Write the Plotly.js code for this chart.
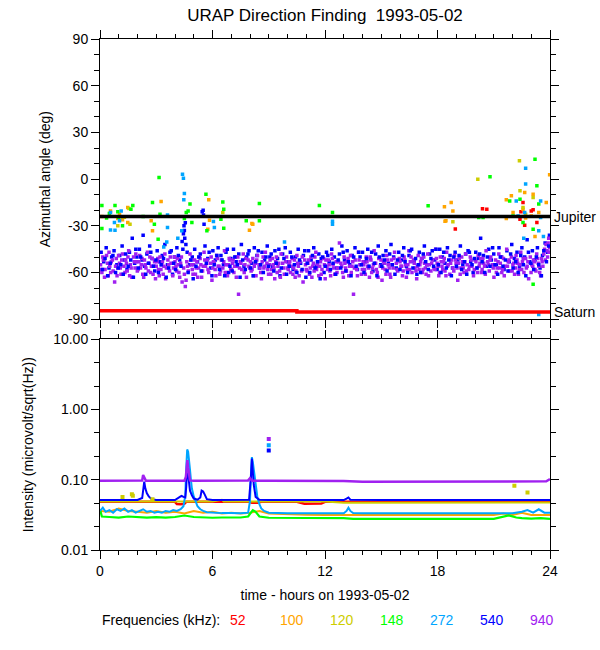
<!DOCTYPE html>
<html><head><meta charset="utf-8">
<script src="https://cdn.plot.ly/plotly-3.0.1.min.js"></script>
<style>html,body{margin:0;padding:0;background:#fff;}#chart{width:600px;height:650px;}</style>
</head><body><div id="chart"></div>
<script>
// ---------- labels / ticks ----------
const freqLabels = ['52','100','120','148','272','540','940'];
const freqColors = ['#FF0000','#FFA500','#CDCD00','#00FF00','#00A5FF','#0000FF','#A020F0'];
const hourTicks = [0,6,12,18,24];
const angleTicks = [-90,-60,-30,0,30,60,90];
const angleTickText = ['-90','-60','-30','0','30','60','90'];
const intensityTicks = [0.01,0.1,1,10];
const intensityTickText = ['0.01','0.10','1.00','10.00'];

// ---------- top panel: azimuthal angle (deg) vs hour ----------
const a52T = [18.95,20.4,20.63,22.4,22.45,22.56,22.65,23.0,23.1,23.3];
const a52A = [-32,-19,-19.3,-25.7,-21,-15,-29.6,-20.4,-19.7,-27.9];
const a100T = [0.1,0.56,0.95,1.04,1.2,1.48,1.48,2.73,2.8,3.26,5.75,5.8,5.84,7.97,8.1,8.15,18.37,18.4,18.45,18.73,18.82,21.67,21.67,21.94,22.03,22.56,22.65,22.7,23.0,23.1,23.2,23.4,23.8,23.98];
const a100A = [-24,-20.4,-25.3,-22.5,-26,-27.9,-18.2,-26.8,-33.2,-14.4,-32.1,-13.3,-26.4,-32.8,-28.5,-28.9,-17.8,-27,-26.8,-15,-20.4,-13.3,-25.3,-10.7,-21.4,-19.3,-8.6,-25,-23.6,-9.7,-36.8,-21.4,-15,2.8];
const a120T = [0.95,1.3,1.54,1.6,6.55,18.82,20.15,22.37,22.4,22.56,22.7,23.1];
const a120A = [-30,-24.5,-18.9,-28.9,-21.4,-27.4,0,11.8,-7.5,-18.2,-22.5,-11.8];
const a148T = [0.1,0.1,0.35,0.5,0.8,0.95,1.0,1.2,1.65,1.75,2.3,2.8,2.9,3.1,3.15,3.2,4.5,4.6,4.7,4.8,4.9,5.65,5.7,6.45,6.55,6.6,6.6,7.8,8.5,8.5,11.7,12.4,17.5,20.2,20.43,20.8,21.85,22.03,22.4,22.56,23.1,23.1,23.2,23.3,23.4];
const a148A = [-17,-31.7,-25,-22,-17,-21,-24.5,-30,-19.3,-17,-24,-15,-29,-38.6,1,-22.5,-25.3,-21.4,-20.4,-16,-27.9,-9.7,-33.2,-25.7,-14.6,-19.3,-31.5,-26.8,-15.6,-26.8,-17,-21.4,-17.1,-24.6,-24.6,1.5,-14,-23.6,-12.9,-27.9,-32.1,-67.5,12.8,-4.3,-16];
const a272T = [0.56,0.56,0.77,0.8,1.04,1.13,3.4,3.56,3.6,3.6,4.15,4.36,4.4,4.45,4.47,4.5,6.05,6.1,9.84,12.4,12.4,22.2,22.3,22.6,22.65,22.7,22.7,23.4,23.4,23.5,23.5,23.65];
const a272A = [-21.4,-32.6,-27.9,-32.8,-26.8,-20.4,-43.5,-40.3,-23,-31,-37.9,-33.2,3.2,0.6,-13.3,-9.2,-27.2,-31,-40.3,-27,-29,-14,-23.6,-38,-21.4,7,-3.2,-33.2,-87,-14,-24.6,-36.8];
const a540T = [0.06,0.2,0.33,0.48,0.62,0.75,0.9,
1.05,1.18,1.3,1.44,1.57,1.72,1.85,1.97,
2.1,2.24,2.3,2.38,2.5,2.65,2.78,2.92,
3.05,3.19,3.32,3.46,3.6,3.73,3.87,3.98,
4.1,4.25,4.38,4.45,4.48,4.5,4.52,4.55,4.58,4.65,4.78,4.92,
5.05,5.2,5.35,5.45,5.5,5.52,5.55,5.6,5.75,5.9,
6.02,6.15,6.3,6.45,6.58,6.72,6.86,6.98,
7.12,7.26,7.4,7.54,7.68,7.82,7.95,
8.1,8.23,8.37,8.5,8.64,8.78,8.92,
9.06,9.2,9.33,9.47,9.6,9.74,9.88,
10.02,10.15,10.3,10.43,10.57,10.7,10.85,10.98,
11.12,11.26,11.4,11.53,11.67,11.8,11.95,
12.08,12.22,12.36,12.5,12.63,12.77,12.9,
13.04,13.18,13.32,13.45,13.6,13.73,13.87,
14.0,14.15,14.28,14.42,14.56,14.7,14.84,14.97,
15.1,15.25,15.38,15.52,15.66,15.8,15.93,
16.07,16.2,16.34,16.48,16.62,16.75,16.9,
17.03,17.17,17.3,17.44,17.58,17.72,17.85,17.98,
18.12,18.26,18.4,18.53,18.67,18.8,18.94,
19.08,19.22,19.35,19.5,19.63,19.77,19.9,
20.04,20.18,20.3,20.45,20.6,20.73,20.87,
21.0,21.14,21.28,21.42,21.55,21.7,21.83,21.96,
22.1,22.24,22.37,22.5,22.65,22.78,22.92,
23.06,23.2,23.33,23.47,23.6,23.74,23.88,23.97];
const a540A = [-47,-53,-44,-57,-50,-46,-55,
-49,-43,-52,-58,-47,-38,-54,-50,
-45,-52,-36,-56,-48,-43,-51,-59,
-46,-53,-49,-42,-55,-47,-61,-50,
-44,-52,-40,-35,-30,-33,-38,-28,-42,-47,-55,-50,
-45,-53,-48,-21,-20,-23,-29,-43,-51,-57,
-46,-52,-44,-49,-55,-47,-60,-51,
-45,-53,-48,-42,-56,-50,-46,
-54,-44,-49,-57,-47,-52,-43,
-50,-56,-46,-51,-62,-48,-44,
-53,-47,-58,-50,-45,-54,-49,-63,
-46,-52,-44,-56,-48,-51,-60,
-47,-53,-45,-50,-57,-48,-43,
-52,-46,-55,-49,-44,-58,-50,
-47,-53,-45,-51,-59,-48,-43,-55,
-49,-46,-54,-42,-50,-57,-47,
-52,-44,-56,-49,-45,-53,-61,
-47,-51,-43,-55,-48,-46,-52,-58,
-45,-50,-54,-44,-49,-57,-47,
-52,-43,-55,-48,-46,-53,-60,
-47,-51,-38,-49,-56,-45,-52,
-48,-55,-44,-50,-58,-46,-53,-42,
-51,-47,-56,-44,-50,-39,-53,
-46,-52,-44,-57,-49,-41,-47,-36];
const a540T2 = [0.13,0.27,0.41,0.55,0.69,0.83,0.97,
1.11,1.24,1.37,1.5,1.64,1.78,1.91,
2.04,2.17,2.44,2.58,2.71,2.85,2.98,
3.12,3.26,3.39,3.53,3.66,3.8,3.93,
4.03,4.18,4.32,4.42,4.7,4.85,4.97,
5.12,5.27,5.4,5.67,5.82,5.97,
6.09,6.23,6.37,6.51,6.65,6.79,6.93,
7.05,7.19,7.33,7.47,7.61,7.75,7.89,
8.03,8.17,8.3,8.44,8.57,8.71,8.85,8.98,
9.13,9.27,9.4,9.54,9.67,9.81,9.95,
10.09,10.23,10.37,10.5,10.64,10.78,10.92,
11.05,11.19,11.33,11.47,11.6,11.74,11.88,
12.01,12.15,12.29,12.43,12.57,12.7,12.84,12.97,
13.11,13.25,13.39,13.53,13.66,13.8,13.94,
14.08,14.21,14.35,14.49,14.63,14.77,14.9,
15.03,15.17,15.31,15.45,15.59,15.73,15.87,
16.0,16.13,16.27,16.41,16.55,16.69,16.83,16.97,
17.1,17.24,17.37,17.51,17.65,17.79,17.92,
18.05,18.19,18.33,18.47,18.6,18.74,18.87,
19.01,19.15,19.29,19.43,19.56,19.7,19.84,19.97,
20.11,20.25,20.38,20.52,20.66,20.8,20.94,
21.07,21.21,21.35,21.49,21.62,21.76,21.9,
22.03,22.17,22.3,22.44,22.58,22.71,22.85,22.98,
23.13,23.27,23.4,23.54,23.67,23.81,23.93];
const a540A2 = [-58,-51,-62,-54,-49,-60,-57,
-55,-61,-48,-56,-52,-63,-45,
-57,-50,-61,-54,-47,-56,-52,
-60,-55,-51,-63,-57,-46,-54,
-58,-49,-56,-45,-60,-52,-64,
-56,-50,-59,-54,-47,-62,
-55,-49,-58,-52,-62,-45,-56,
-59,-50,-55,-63,-52,-58,-48,
-57,-62,-53,-46,-55,-60,-50,-56,
-48,-59,-54,-45,-57,-51,-61,
-56,-50,-55,-60,-52,-58,-46,
-54,-60,-49,-57,-53,-64,-50,
-56,-49,-58,-54,-61,-52,-57,-47,
-59,-53,-62,-50,-56,-47,-55,
-60,-51,-56,-47,-54,-62,-50,
-56,-52,-59,-48,-55,-61,-52,
-58,-49,-53,-60,-46,-57,-51,-55,
-60,-48,-53,-58,-51,-56,-45,
-55,-60,-47,-57,-52,-62,-50,
-56,-49,-58,-53,-61,-47,-55,-51,
-57,-48,-53,-60,-50,-56,-44,
-55,-61,-50,-56,-52,-59,-48,
-57,-53,-60,-49,-55,-62,-47,-54,
-58,-50,-55,-62,-46,-53,-43];
const a940T = [0.03,0.1,0.18,0.27,0.35,0.44,0.52,0.6,0.7,0.78,0.87,0.95,
1.04,1.12,1.2,1.28,1.37,1.45,1.53,1.62,1.7,1.79,1.87,1.95,
2.03,2.12,2.2,2.28,2.37,2.45,2.53,2.62,2.7,2.79,2.87,2.96,
3.04,3.12,3.2,3.29,3.37,3.46,3.54,3.62,3.71,3.79,3.88,3.96,
4.05,4.13,4.21,4.3,4.38,4.46,4.55,4.63,4.71,4.8,4.88,4.96,
5.05,5.13,5.21,5.3,5.38,5.47,5.55,5.63,5.72,5.8,5.88,5.97,
6.05,6.14,6.22,6.3,6.39,6.47,6.55,6.64,6.72,6.8,6.89,6.97,
7.06,7.14,7.22,7.31,7.39,7.48,7.56,7.64,7.73,7.81,7.9,7.98,
8.06,8.15,8.23,8.32,8.4,8.48,8.57,8.65,8.74,8.82,8.9,8.99,
9.07,9.16,9.24,9.32,9.41,9.49,9.58,9.66,9.74,9.83,9.91,9.99,
10.08,10.16,10.25,10.33,10.41,10.5,10.58,10.67,10.75,10.83,10.92,11.0,
11.09,11.17,11.25,11.34,11.42,11.51,11.59,11.67,11.76,11.84,11.93,12.01,
12.1,12.18,12.26,12.35,12.43,12.52,12.6,12.68,12.77,12.85,12.94,13.02,
13.1,13.19,13.27,13.36,13.44,13.52,13.61,13.69,13.78,13.86,13.94,14.03,
14.11,14.2,14.28,14.37,14.45,14.53,14.62,14.7,14.79,14.87,14.95,15.04,
15.12,15.21,15.29,15.37,15.46,15.54,15.63,15.71,15.8,15.88,15.96,16.05,
16.13,16.22,16.3,16.38,16.47,16.55,16.64,16.72,16.8,16.89,16.97,17.06,
17.14,17.23,17.31,17.39,17.48,17.56,17.65,17.73,17.81,17.9,17.98,18.07,
18.15,18.24,18.32,18.4,18.49,18.57,18.66,18.74,18.82,18.91,18.99,19.08,
19.16,19.25,19.33,19.41,19.5,19.58,19.67,19.75,19.83,19.92,20.0,
20.09,20.17,20.26,20.34,20.42,20.51,20.59,20.68,20.76,20.84,20.93,21.01,
21.1,21.18,21.27,21.35,21.43,21.52,21.6,21.69,21.77,21.85,21.94,22.02,
22.11,22.19,22.28,22.36,22.44,22.53,22.61,22.7,22.78,22.86,22.95,23.03,
23.12,23.2,23.29,23.37,23.45,23.54,23.62,23.71,23.79,23.87,23.93,23.98];
const a940A = [-55,-60,-52,-58,-49,-62,-56,-53,-59,-66,-51,-57,
-54,-61,-48,-56,-52,-59,-46,-55,-63,-50,-57,-53,
-58,-49,-55,-61,-52,-57,-47,-54,-60,-51,-56,-64,
-53,-58,-50,-55,-61,-48,-57,-52,-59,-54,-62,-50,
-56,-51,-60,-54,-66,-57,-69,-53,-59,-48,-55,-61,
-52,-57,-63,-50,-55,-59,-47,-56,-52,-60,-54,-65,
-53,-58,-49,-56,-61,-52,-57,-46,-55,-62,-51,-58,
-54,-60,-50,-56,-74,-53,-58,-48,-55,-63,-52,-57,
-59,-51,-56,-62,-49,-55,-60,-53,-57,-47,-54,-61,
-52,-58,-55,-64,-50,-56,-59,-48,-54,-61,-53,-57,
-55,-60,-51,-57,-63,-49,-56,-53,-59,-66,-52,-58,
-54,-61,-50,-56,-59,-47,-55,-62,-53,-58,-51,-64,
-56,-52,-59,-48,-55,-61,-53,-57,-41,-54,-60,-50,
-57,-53,-62,-49,-56,-74,-52,-58,-47,-55,-61,-53,
-58,-50,-56,-63,-52,-57,-46,-54,-60,-51,-56,-65,
-53,-58,-49,-55,-61,-52,-57,-47,-54,-59,-51,-56,
-62,-50,-55,-58,-46,-53,-60,-52,-57,-64,-49,-55,
-51,-58,-54,-61,-48,-55,-59,-52,-57,-45,-54,-62,
-50,-56,-53,-59,-47,-55,-61,-52,-57,-49,-54,-65,
-51,-57,-53,-60,-48,-55,-58,-50,-56,-62,-52,
-57,-49,-54,-60,-51,-56,-46,-53,-59,-50,-55,-63,
-52,-57,-48,-54,-60,-51,-56,-45,-53,-59,-50,-55,
-61,-49,-54,-58,-47,-53,-60,-51,-56,-64,-50,-55,
-52,-58,-48,-54,-60,-51,-56,-45,-42,-50,-38,-44];
const a940T2 = [0.07,0.15,0.24,0.4,0.48,0.57,0.66,0.83,0.91,0.99,
1.08,1.16,1.33,1.41,1.49,1.58,1.66,1.83,1.91,1.99,
2.07,2.16,2.24,2.33,2.41,2.58,2.66,2.74,2.83,2.91,
3.0,3.08,3.16,3.25,3.33,3.41,3.5,3.66,3.75,3.92,
4.0,4.09,4.17,4.25,4.34,4.5,4.59,4.67,4.84,4.92,
5.0,5.09,5.17,5.26,5.34,5.42,5.51,5.59,5.76,5.93,
6.01,6.1,6.18,6.26,6.35,6.43,6.6,6.68,6.85,6.93,
7.02,7.1,7.18,7.27,7.35,7.44,7.52,7.69,7.77,7.94,
8.02,8.11,8.19,8.28,8.36,8.53,8.61,8.7,8.78,8.95,
9.03,9.11,9.2,9.28,9.37,9.45,9.53,9.62,9.79,9.95,
10.04,10.12,10.2,10.29,10.37,10.45,10.54,10.62,10.79,10.96,
11.04,11.13,11.21,11.3,11.38,11.46,11.55,11.72,11.8,11.97,
12.05,12.14,12.22,12.3,12.39,12.47,12.64,12.72,12.89,12.98,
13.06,13.14,13.23,13.31,13.4,13.48,13.57,13.73,13.82,13.99,
14.07,14.15,14.24,14.32,14.41,14.49,14.58,14.74,14.83,14.99,
15.08,15.16,15.25,15.33,15.42,15.5,15.58,15.67,15.84,16.0,
16.09,16.17,16.26,16.34,16.42,16.51,16.59,16.76,16.85,16.93,
17.02,17.1,17.19,17.27,17.35,17.44,17.52,17.69,17.86,17.94,
18.03,18.11,18.2,18.28,18.36,18.45,18.53,18.7,18.87,18.95,
19.04,19.12,19.21,19.29,19.37,19.46,19.54,19.71,19.79,19.96,
20.05,20.13,20.22,20.3,20.38,20.47,20.55,20.72,20.8,20.97,
21.06,21.14,21.23,21.31,21.39,21.48,21.56,21.73,21.81,21.98,
22.07,22.15,22.24,22.32,22.4,22.49,22.57,22.74,22.82,22.99,
23.08,23.16,23.25,23.33,23.41,23.5,23.58,23.67,23.75,23.83,23.9,23.95];
const a940A2 = [-58,-50,-63,-54,-47,-60,-52,-56,-62,-49,
-57,-52,-60,-54,-50,-62,-57,-53,-48,-59,
-53,-57,-51,-63,-55,-59,-50,-56,-61,-53,
-56,-51,-62,-58,-53,-56,-64,-55,-50,-57,
-53,-59,-55,-63,-50,-61,-65,-56,-52,-58,
-55,-61,-53,-57,-51,-63,-56,-52,-58,-50,
-57,-54,-62,-51,-56,-59,-53,-60,-55,-52,
-58,-52,-56,-63,-50,-57,-54,-60,-51,-56,
-53,-58,-62,-54,-52,-57,-64,-50,-56,-58,
-55,-61,-51,-57,-53,-60,-54,-63,-57,-50,
-58,-53,-56,-61,-52,-59,-54,-62,-50,-55,
-59,-52,-57,-63,-54,-50,-58,-56,-61,-55,
-52,-58,-55,-62,-51,-57,-60,-53,-56,-63,
-54,-59,-51,-56,-60,-53,-57,-62,-52,-58,
-55,-61,-53,-57,-50,-60,-55,-58,-63,-52,
-57,-54,-61,-52,-57,-63,-55,-51,-58,-53,
-56,-59,-52,-63,-55,-58,-50,-54,-59,-56,
-58,-53,-60,-50,-57,-55,-62,-54,-58,-51,
-56,-60,-53,-58,-51,-62,-56,-54,-59,-52,
-57,-54,-61,-50,-57,-53,-59,-56,-52,-58,
-53,-60,-56,-51,-58,-54,-61,-55,-52,-57,
-55,-60,-53,-57,-50,-58,-62,-56,-52,-59,
-54,-57,-52,-61,-55,-58,-51,-57,-53,-60,
-56,-53,-59,-51,-56,-62,-53,-48,-52,-46,-41,-47];
const jupiterT = [0,24];
const jupiterA = [-24,-24];
const saturnT = [0,10.5,10.5,24];
const saturnA = [-84.5,-84.5,-85.3,-85.3];

// ---------- bottom panel: intensity vs hour ----------
const i52T = [0,1,2,3,4,4.1,4.3,4.5,4.6,5,6,7,8,8.1,8.4,8.6,9,10,10.5,10.9,11.3,11.8,12,13,14,15,16,17,18,19,20,21,22,23,24];
const i52V = [0.0485,0.0488,0.0485,0.0487,0.0485,0.0452,0.045,0.0455,0.0485,0.0485,0.0487,0.0485,0.0485,0.047,0.047,0.0485,0.0485,0.0487,0.0485,0.0455,0.0452,0.0458,0.0485,0.0487,0.0488,0.0487,0.0488,0.0488,0.0487,0.0488,0.0487,0.0488,0.0487,0.0488,0.0488];
const i100T = [0,0.5,1,1.5,2,2.5,3,3.5,4,4.5,5,5.5,6,6.5,7,7.5,8,8.5,9,10,11,12,13,14,15,16,17,18,19,20,21,21.5,22,22.5,23,24];
const i100V = [0.036,0.035,0.039,0.036,0.035,0.034,0.036,0.034,0.035,0.033,0.036,0.034,0.035,0.033,0.034,0.033,0.034,0.036,0.033,0.032,0.0318,0.0316,0.0316,0.0316,0.0318,0.0316,0.0316,0.0318,0.0316,0.0316,0.0316,0.033,0.0316,0.034,0.0316,0.0316];
const i120T = [0,1,2,3,4,5,6,6.5,6.6,7,8,9,10,11,12,13,14,15,16,17,18,19,20,21,22,23,24];
const i120V = [0.049,0.049,0.0495,0.049,0.049,0.049,0.049,0.052,0.049,0.049,0.049,0.049,0.049,0.049,0.049,0.0472,0.0471,0.0473,0.0471,0.0472,0.0471,0.0473,0.0472,0.0471,0.0472,0.0471,0.0473];
const i148T = [0,0.1,0.5,1,1.5,2,2.5,3,3.5,4,4.5,5,5.5,6,6.5,7,7.5,7.9,8.05,8.15,8.3,8.5,9,10,11,12,13,13.5,14,15,16,17,18,19,20,21,21.8,22.2,22.5,23,23.5,24];
const i148V = [0.038,0.03,0.0295,0.029,0.03,0.0295,0.029,0.0293,0.029,0.0295,0.031,0.0295,0.029,0.0288,0.029,0.0288,0.029,0.03,0.035,0.037,0.035,0.03,0.0288,0.0287,0.0288,0.0289,0.0285,0.0278,0.0277,0.0277,0.0278,0.0277,0.0277,0.0278,0.0277,0.0278,0.031,0.029,0.0285,0.028,0.0285,0.0278];
const i272T = [0,0.15,0.3,0.5,0.7,0.9,1.1,1.3,1.5,1.7,1.9,2.1,2.3,2.5,2.7,2.9,3.1,3.3,3.5,3.7,3.9,4.1,4.3,4.45,4.55,4.6,4.65,4.7,4.75,4.8,4.85,4.9,5.0,5.1,5.2,5.35,5.5,5.7,6,6.5,7,7.5,7.9,8.0,8.05,8.1,8.15,8.2,8.25,8.3,8.4,8.5,8.6,8.75,9,10,11,12,13,13.15,13.25,13.35,13.5,14,15,16,17,18,19,20,21,22,22.5,22.8,23.1,23.4,23.7,24];
const i272V = [0.036,0.04,0.035,0.037,0.034,0.038,0.036,0.039,0.035,0.037,0.034,0.036,0.038,0.035,0.036,0.034,0.035,0.034,0.036,0.035,0.037,0.036,0.038,0.042,0.06,0.15,0.27,0.25,0.2,0.14,0.1,0.075,0.058,0.048,0.042,0.038,0.036,0.0345,0.034,0.0335,0.0335,0.0333,0.034,0.05,0.12,0.21,0.18,0.14,0.1,0.075,0.055,0.045,0.039,0.036,0.034,0.0333,0.0333,0.0333,0.0333,0.036,0.04,0.036,0.0335,0.0333,0.0333,0.0333,0.0333,0.0333,0.0333,0.0333,0.0333,0.0333,0.035,0.037,0.034,0.038,0.034,0.034];
const i540T = [0,0.5,1,1.5,2,2.25,2.32,2.36,2.42,2.5,2.6,2.75,3,3.5,4,4.3,4.35,4.45,4.55,4.6,4.65,4.7,4.75,4.8,4.9,5.0,5.2,5.35,5.42,5.5,5.58,5.7,6,6.5,7,7.5,7.95,8.05,8.1,8.15,8.2,8.3,8.5,9,10,11,12,13,13.15,13.25,13.35,14,15,16,17,18,19,20,21,22,23,24];
const i540V = [0.0515,0.0515,0.0516,0.0515,0.0515,0.055,0.085,0.094,0.075,0.064,0.058,0.053,0.0515,0.0515,0.0515,0.058,0.059,0.057,0.056,0.08,0.15,0.12,0.09,0.07,0.06,0.054,0.052,0.056,0.07,0.068,0.062,0.053,0.0515,0.0515,0.0515,0.0515,0.052,0.11,0.2,0.13,0.085,0.057,0.052,0.0515,0.0515,0.0515,0.0515,0.0515,0.054,0.056,0.052,0.0515,0.0515,0.0515,0.0515,0.0515,0.0515,0.0515,0.0515,0.0515,0.0515,0.0515];
const i940T = [0,1,2,2.25,2.3,2.35,2.45,3,4,4.5,4.58,4.62,4.66,4.7,4.75,4.8,5,6,7,7.9,8.0,8.1,9,10,11,12,13,14,15,16,17,18,19,20,21,22,23,23.8,24];
const i940V = [0.097,0.097,0.097,0.098,0.117,0.11,0.097,0.097,0.097,0.097,0.11,0.17,0.19,0.15,0.12,0.098,0.097,0.097,0.097,0.098,0.105,0.097,0.097,0.097,0.097,0.097,0.096,0.094,0.094,0.094,0.094,0.094,0.094,0.094,0.094,0.094,0.094,0.095,0.102];
// isolated intensity samples (hour, value, frequency index)
const isoT = [1.2,1.7,1.75,2.8,22.1,22.8,9.0,9.0,9.0];
const isoV = [0.057,0.062,0.059,0.053,0.082,0.066,0.38,0.31,0.26];
const isoF = [2,2,2,2,2,2,6,4,5];

// ---------- build ----------
const FONT = '"Liberation Sans", Arial, Helvetica, sans-serif';
const intT = [i52T,i100T,i120T,i148T,i272T,i540T,i940T];
const intV = [i52V,i100V,i120V,i148V,i272V,i540V,i940V];
const intW = [2.5,2,2,2.2,2,2,2.5];
// drawing order of the scatter groups in the top panel: [times, angles, colour index]
const topGroups = [
  [a540T, a540A, 5], [a940T, a940A, 6], [a940T2, a940A2, 6], [a540T2, a540A2, 5],
  [a52T, a52A, 0], [a100T, a100A, 1], [a120T, a120A, 2], [a148T, a148A, 3], [a272T, a272A, 4]
];
const traces = [];
topGroups.forEach(g => {
  traces.push({type:'scatter', mode:'markers', x:g[0], y:g[1], xaxis:'x', yaxis:'y',
    marker:{symbol:'square', size:3.5, color:freqColors[g[2]], line:{width:0}}, name:freqLabels[g[2]]+' kHz', hoverinfo:'skip'});
});
traces.push({type:'scatter', mode:'lines', x:jupiterT, y:jupiterA, xaxis:'x', yaxis:'y', line:{color:'#000', width:3.5}, hoverinfo:'skip'});
traces.push({type:'scatter', mode:'lines', x:saturnT, y:saturnA, xaxis:'x', yaxis:'y', line:{color:'#FF0000', width:3.5}, hoverinfo:'skip'});
for (let k = 0; k < 7; k++) {
  traces.push({type:'scatter', mode:'lines', x:intT[k], y:intV[k], xaxis:'x2', yaxis:'y2',
    line:{color:freqColors[k], width:intW[k]}, hoverinfo:'skip'});
}
traces.push({type:'scatter', mode:'markers', x:isoT, y:isoV, xaxis:'x2', yaxis:'y2',
  marker:{symbol:'square', size:4, color:isoF.map(k => freqColors[k]), line:{width:0}}, hoverinfo:'skip'});

const axisBase = {showline:true, linecolor:'#000', linewidth:1, mirror:'ticks', ticks:'outside',
  tickcolor:'#000', tickwidth:1, ticklen:8, showgrid:false, zeroline:false, fixedrange:true,
  tickfont:{family:FONT, size:14, color:'#000'}};

const annotations = [
  {xref:'paper', yref:'y', x:1, xshift:2, xanchor:'left', y:jupiterA[jupiterA.length-1], text:'Jupiter', showarrow:false, font:{family:FONT,size:14,color:'#000'}},
  {xref:'paper', yref:'y', x:1, xshift:2, xanchor:'left', y:saturnA[saturnA.length-1], text:'Saturn', showarrow:false, font:{family:FONT,size:14,color:'#000'}},
  {xref:'paper', yref:'paper', x:0, xanchor:'left', y:-0.137, yanchor:'middle', text:'Frequencies (kHz):', showarrow:false, font:{family:FONT,size:14,color:'#000'}}
];
const legendX = [0.3067,0.4267,0.5378,0.649,0.76,0.871,0.982];
freqLabels.forEach((lab, k) => {
  annotations.push({xref:'paper', yref:'paper', x:legendX[k], xanchor:'center', y:-0.137, yanchor:'middle',
    text:lab, showarrow:false, font:{family:FONT,size:14,color:freqColors[k]}});
});

const layout = {
  width:600, height:650, margin:{l:100, r:50, t:39, b:100},
  paper_bgcolor:'#fff', plot_bgcolor:'#fff', showlegend:false,
  font:{family:FONT, size:14, color:'#000'},
  title:{text:'URAP Direction Finding\u00a0 1993-05-02', font:{family:FONT, size:17, color:'#000'},
    xref:'paper', x:0.5, xanchor:'center', yref:'container', y:0.977, yanchor:'middle'},
  xaxis:Object.assign({}, axisBase, {domain:[0,1], anchor:'y', range:[0,24], tickmode:'array', tickvals:hourTicks,
    showticklabels:false, minor:{dtick:1, ticklen:4, ticks:'outside', tickcolor:'#000', tickwidth:1}}),
  yaxis:Object.assign({}, axisBase, {domain:[0.4515,1], anchor:'x', range:[-90,90], tickmode:'array',
    tickvals:angleTicks, ticktext:angleTickText,
    minor:{dtick:10, ticklen:5, ticks:'outside', tickcolor:'#000', tickwidth:1},
    title:{text:'Azimuthal angle (deg)', font:{family:FONT, size:14, color:'#000'}, standoff:14}}),
  xaxis2:Object.assign({}, axisBase, {domain:[0,1], anchor:'y2', range:[0,24], tickmode:'array',
    tickvals:hourTicks, ticktext:hourTicks.map(String),
    minor:{dtick:1, ticklen:4, ticks:'outside', tickcolor:'#000', tickwidth:1},
    title:{text:'time - hours on 1993-05-02', font:{family:FONT, size:14, color:'#000'}, standoff:12}}),
  yaxis2:Object.assign({}, axisBase, {type:'log', domain:[0,0.4123], anchor:'x2', range:[-2,1], tickmode:'array',
    tickvals:intensityTicks, ticktext:intensityTickText,
    minor:{tickmode:'array', tickvals:[0.0215,0.0464,0.215,0.464,2.15,4.64], ticklen:5, ticks:'outside', tickcolor:'#000', tickwidth:1},
    title:{text:'Intensity (microvolt/sqrt(Hz))', font:{family:FONT, size:14, color:'#000'}, standoff:16}}),
  annotations:annotations
};

Plotly.newPlot('chart', traces, layout, {displayModeBar:false, staticPlot:true});
</script>
</body></html>
